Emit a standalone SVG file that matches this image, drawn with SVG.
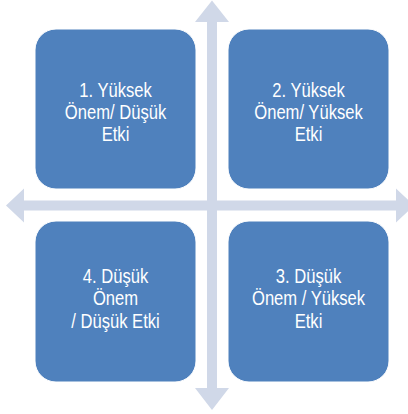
<svg xmlns="http://www.w3.org/2000/svg" width="408" height="414" viewBox="0 0 408 414">
  <style>
    .axis { fill: #D0D8E8; }
    .box { fill: #4F81BD; stroke: #FFFFFF; stroke-width: 1; }
    .label { font-family: "Liberation Sans", Arial, sans-serif; font-size: 20px; fill: #FFFFFF; text-anchor: middle; }
  </style>

  <!-- Axes: two double-headed arrows crossing at the centre -->
  <g id="connectors">
    <polygon class="axis" points="212,0.5 229,22 217,22 217,388 229,388 212,410 195,388 207,388 207,22 195,22"/>
    <polygon class="axis" points="6,205.5 24,188.5 24,200.5 396,200.5 396,188.5 414,205.5 396,222.5 396,210.5 24,210.5 24,222.5"/>
  </g>

  <!-- Labels use a horizontally condensed sans to mimic a narrow face -->
  <g id="node1">
    <rect class="box" x="35" y="29" width="161" height="160" rx="21" ry="21"/>
    <g transform="translate(115.5 0) scale(0.83 1)">
      <text class="label" x="0" y="97">1. Yüksek</text>
      <text class="label" x="0" y="119">Önem/ Düşük</text>
      <text class="label" x="0" y="141">Etki</text>
    </g>
  </g>

  <g id="node2">
    <rect class="box" x="228" y="29" width="161" height="160" rx="21" ry="21"/>
    <g transform="translate(308.5 0) scale(0.83 1)">
      <text class="label" x="0" y="97">2. Yüksek</text>
      <text class="label" x="0" y="119">Önem/ Yüksek</text>
      <text class="label" x="0" y="141">Etki</text>
    </g>
  </g>

  <g id="node3">
    <rect class="box" x="228" y="221" width="161" height="161" rx="21" ry="21"/>
    <g transform="translate(308.5 0) scale(0.83 1)">
      <text class="label" x="0" y="283">3. Düşük</text>
      <text class="label" x="0" y="305">Önem / Yüksek</text>
      <text class="label" x="0" y="328">Etki</text>
    </g>
  </g>

  <g id="node4">
    <rect class="box" x="35" y="221" width="161" height="161" rx="21" ry="21"/>
    <g transform="translate(115.5 0) scale(0.83 1)">
      <text class="label" x="0" y="283">4. Düşük</text>
      <text class="label" x="0" y="305">Önem</text>
      <text class="label" x="0" y="328">/ Düşük Etki</text>
    </g>
  </g>
</svg>
